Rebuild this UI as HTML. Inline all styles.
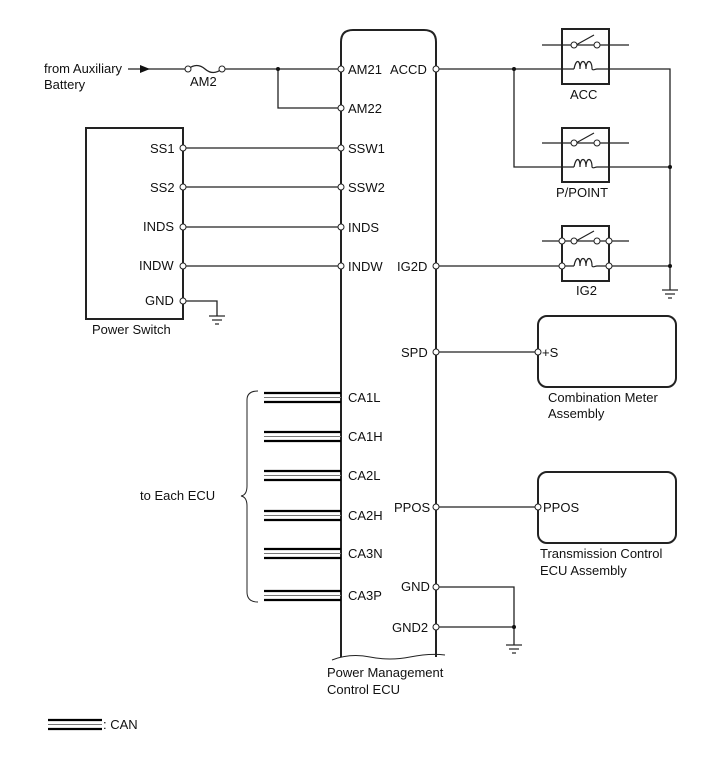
<!DOCTYPE html>
<html><head><meta charset="utf-8"><style>
html,body{margin:0;padding:0;background:#fff;}
svg{display:block;}
text{font-family:"Liberation Sans",Arial,sans-serif;font-size:13px;fill:#111;}
</style></head><body>
<svg width="713" height="782" viewBox="0 0 713 782" xmlns="http://www.w3.org/2000/svg">
<g fill="none" stroke="#222" stroke-width="1.3">
<path d="M341 657 V42 Q341 30 353 30 H424 Q436 30 436 42 V657" stroke-width="2"/>
<path d="M332 660 Q350 653 370 657 T410 657 T445 655" stroke-width="1"/>
<rect x="86" y="128" width="97" height="191" stroke-width="2"/>
<line x1="128" y1="69" x2="188" y2="69"/>
<path d="M188 69 Q197 62 205 69 T222 69" />
<line x1="225" y1="69" x2="341" y2="69"/>
<path d="M278 69 V108 H341"/>
<line x1="183" y1="148" x2="341" y2="148"/>
<line x1="183" y1="187" x2="341" y2="187"/>
<line x1="183" y1="227" x2="341" y2="227"/>
<line x1="183" y1="266" x2="341" y2="266"/>
<path d="M183 301 H217 V316"/>
<path d="M436 69 H574 M597 69 H670 V290"/>
<path d="M514 69 V167 H574 M597 167 H670"/>
<path d="M436 266 H574 M597 266 H670"/>
<rect x="562" y="29" width="47" height="55" stroke-width="2"/>
<rect x="562" y="128" width="47" height="54" stroke-width="2"/>
<rect x="562" y="226" width="47" height="55" stroke-width="2"/>
<line x1="542" y1="45" x2="629" y2="45"/>
<line x1="542" y1="143" x2="629" y2="143"/>
<line x1="542" y1="241" x2="629" y2="241"/>
<line x1="436" y1="352" x2="538" y2="352"/>
<line x1="436" y1="507" x2="538" y2="507"/>
<rect x="538" y="316" width="138" height="71" rx="9" stroke-width="2"/>
<rect x="538" y="472" width="138" height="71" rx="9" stroke-width="2"/>
<path d="M436 587 H514 V645"/>
<line x1="436" y1="627" x2="514" y2="627"/>
<path d="M258 391 Q247 391 247 400 V486 Q247 495 241 496 Q247 497 247 506 V592 Q247 602 258 602" stroke-width="1"/>
</g>
<g fill="none" stroke="#222" stroke-width="1.2">
<path d="M576 45 L594 35"/><path d="M574 69 c2 -10 6 -10 6 0 c0 -10 6 -10 6 0 c0 -10 6 -10 6 0 c1 2 3 0 5 0"/>
<path d="M576 143 L594 133"/><path d="M574 167 c2 -10 6 -10 6 0 c0 -10 6 -10 6 0 c0 -10 6 -10 6 0 c1 2 3 0 5 0"/>
<path d="M576 241 L594 231"/><path d="M574 266 c2 -10 6 -10 6 0 c0 -10 6 -10 6 0 c0 -10 6 -10 6 0 c1 2 3 0 5 0"/>
</g>
<g stroke="#222" stroke-width="1.2">
<line x1="209" y1="316" x2="225" y2="316"/><line x1="212" y1="320" x2="222" y2="320"/><line x1="215" y1="324" x2="219" y2="324"/>
<line x1="662" y1="290" x2="678" y2="290"/><line x1="665" y1="294" x2="675" y2="294"/><line x1="668" y1="298" x2="672" y2="298"/>
<line x1="506" y1="645" x2="522" y2="645"/><line x1="509" y1="649" x2="519" y2="649"/><line x1="512" y1="653" x2="516" y2="653"/>
</g>
<polygon points="140,65 150,69 140,73" fill="#111"/>
<g fill="#111"><circle cx="278" cy="69" r="2"/><circle cx="514" cy="69" r="2"/><circle cx="670" cy="167" r="2"/><circle cx="670" cy="266" r="2"/><circle cx="514" cy="627" r="2"/></g>
<g fill="#fff" stroke="#222" stroke-width="1">
<circle cx="188" cy="69" r="3"/><circle cx="222" cy="69" r="3"/>
<circle cx="341" cy="69" r="3"/><circle cx="341" cy="108" r="3"/><circle cx="341" cy="148" r="3"/><circle cx="341" cy="187" r="3"/><circle cx="341" cy="227" r="3"/><circle cx="341" cy="266" r="3"/>
<circle cx="183" cy="148" r="3"/><circle cx="183" cy="187" r="3"/><circle cx="183" cy="227" r="3"/><circle cx="183" cy="266" r="3"/><circle cx="183" cy="301" r="3"/>
<circle cx="436" cy="69" r="3"/><circle cx="436" cy="266" r="3"/><circle cx="436" cy="352" r="3"/><circle cx="436" cy="507" r="3"/><circle cx="436" cy="587" r="3"/><circle cx="436" cy="627" r="3"/>
<circle cx="538" cy="352" r="3"/><circle cx="538" cy="507" r="3"/>
<circle cx="574" cy="45" r="3"/><circle cx="597" cy="45" r="3"/>
<circle cx="574" cy="143" r="3"/><circle cx="597" cy="143" r="3"/>
<circle cx="574" cy="241" r="3"/><circle cx="597" cy="241" r="3"/>
<circle cx="562" cy="241" r="3"/><circle cx="609" cy="241" r="3"/><circle cx="562" cy="266" r="3"/><circle cx="609" cy="266" r="3"/>
</g>
<g stroke="#000" stroke-width="2.2"><line x1="264" y1="393" x2="341" y2="393"/><line x1="264" y1="402" x2="341" y2="402"/>
<line x1="264" y1="432" x2="341" y2="432"/><line x1="264" y1="441" x2="341" y2="441"/>
<line x1="264" y1="471" x2="341" y2="471"/><line x1="264" y1="480" x2="341" y2="480"/>
<line x1="264" y1="511" x2="341" y2="511"/><line x1="264" y1="520" x2="341" y2="520"/>
<line x1="264" y1="549" x2="341" y2="549"/><line x1="264" y1="558" x2="341" y2="558"/>
<line x1="264" y1="591" x2="341" y2="591"/><line x1="264" y1="600" x2="341" y2="600"/>
<line x1="48" y1="720" x2="102" y2="720"/><line x1="48" y1="729" x2="102" y2="729"/></g>
<g stroke="#777" stroke-width="1"><line x1="264" y1="397.5" x2="341" y2="397.5"/><line x1="264" y1="436.5" x2="341" y2="436.5"/><line x1="264" y1="475.5" x2="341" y2="475.5"/><line x1="264" y1="515.5" x2="341" y2="515.5"/><line x1="264" y1="553.5" x2="341" y2="553.5"/><line x1="264" y1="595.5" x2="341" y2="595.5"/><line x1="48" y1="724.5" x2="102" y2="724.5"/></g>
<text x="44" y="73">from Auxiliary</text>
<text x="44" y="89">Battery</text>
<text x="190" y="86">AM2</text>
<text x="348" y="74">AM21</text><text x="390" y="74">ACCD</text>
<text x="348" y="113">AM22</text>
<text x="348" y="153">SSW1</text>
<text x="348" y="192">SSW2</text>
<text x="348" y="232">INDS</text>
<text x="348" y="271">INDW</text><text x="397" y="271">IG2D</text>
<text x="150" y="153">SS1</text>
<text x="150" y="192">SS2</text>
<text x="143" y="231">INDS</text>
<text x="139" y="270">INDW</text>
<text x="145" y="305">GND</text>
<text x="92" y="334">Power Switch</text>
<text x="570" y="99">ACC</text>
<text x="556" y="197">P/POINT</text>
<text x="576" y="295">IG2</text>
<text x="401" y="357">SPD</text><text x="542" y="357">+S</text>
<text x="548" y="402">Combination Meter</text>
<text x="548" y="418">Assembly</text>
<text x="394" y="512">PPOS</text><text x="543" y="512">PPOS</text>
<text x="540" y="558">Transmission Control</text>
<text x="540" y="575">ECU Assembly</text>
<text x="401" y="591">GND</text>
<text x="392" y="632">GND2</text>
<text x="348" y="402">CA1L</text>
<text x="348" y="441">CA1H</text>
<text x="348" y="480">CA2L</text>
<text x="348" y="520">CA2H</text>
<text x="348" y="558">CA3N</text>
<text x="348" y="600">CA3P</text>
<text x="140" y="500">to Each ECU</text>
<text x="327" y="677">Power Management</text>
<text x="327" y="694">Control ECU</text>
<text x="103" y="729">: CAN</text>
</svg>
</body></html>
